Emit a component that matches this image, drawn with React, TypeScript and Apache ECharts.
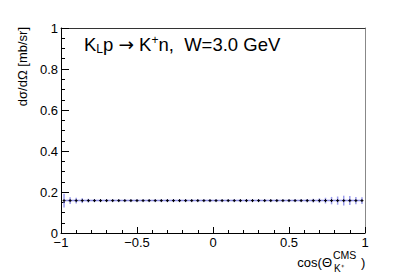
import React, { useEffect, useRef } from "react";
import * as echarts from "echarts";

const xCenters: number[] = [
  -0.98, -0.94, -0.9, -0.86, -0.82, -0.78, -0.74, -0.7, -0.66, -0.62,
  -0.58, -0.54, -0.5, -0.46, -0.42, -0.38, -0.34, -0.3, -0.26, -0.22,
  -0.18, -0.14, -0.1, -0.06, -0.02, 0.02, 0.06, 0.1, 0.14, 0.18,
  0.22, 0.26, 0.3, 0.34, 0.38, 0.42, 0.46, 0.5, 0.54, 0.58,
  0.62, 0.66, 0.7, 0.74, 0.78, 0.82, 0.86, 0.9, 0.94, 0.98,
];
const yValues: number[] = [
  0.158, 0.158, 0.158, 0.158, 0.158, 0.158, 0.158, 0.158, 0.158, 0.158,
  0.158, 0.158, 0.158, 0.158, 0.158, 0.158, 0.158, 0.158, 0.158, 0.158,
  0.158, 0.158, 0.158, 0.158, 0.158, 0.158, 0.158, 0.158, 0.158, 0.158,
  0.158, 0.158, 0.158, 0.158, 0.158, 0.158, 0.158, 0.158, 0.158, 0.158,
  0.158, 0.158, 0.158, 0.158, 0.158, 0.158, 0.158, 0.158, 0.158, 0.158,
];
const yErrors: number[] = [
  0.033, 0.016, 0.014, 0.012, 0.009, 0.007, 0.006, 0.006, 0.006, 0.006,
  0.006, 0.006, 0.006, 0.006, 0.006, 0.006, 0.006, 0.006, 0.006, 0.006,
  0.006, 0.006, 0.006, 0.006, 0.006, 0.006, 0.006, 0.006, 0.006, 0.006,
  0.006, 0.006, 0.006, 0.006, 0.006, 0.006, 0.006, 0.006, 0.007, 0.007,
  0.008, 0.009, 0.011, 0.014, 0.018, 0.02, 0.024, 0.022, 0.018, 0.016,
];
const xTicks: number[] = [-1, -0.5, 0, 0.5, 1];
const yTicks: number[] = [0, 0.2, 0.4, 0.6, 0.8, 1];

const FONT = "Liberation Sans, Arial, Helvetica, sans-serif";

function fmt(v: number): string {
  const s = String(v);
  return s.replace("-", "\u2212");
}

export default function App() {
  const ref = useRef<HTMLDivElement>(null);
  useEffect(() => {
    document.body.style.margin = "0";
    if (!ref.current) return;
    const chart = echarts.init(ref.current, undefined, { renderer: "svg" });
    const pts = xCenters.map((x, i) => [x, yValues[i], yErrors[i]]);
    chart.setOption({
      animation: false,
      backgroundColor: "#ffffff",
      grid: { left: 61, right: 40, top: 28, bottom: 42 },
      xAxis: [
        {
          type: "value",
          min: -1,
          max: 1,
          interval: 0.5,
          position: "bottom",
          axisLine: { show: true, onZero: false, lineStyle: { color: "#000", width: 1 } },
          axisTick: { show: true, inside: true, length: 6, lineStyle: { color: "#000" } },
          minorTick: { show: true, splitNumber: 5, length: 3, lineStyle: { color: "#000" } },
          splitLine: { show: false },
          axisLabel: {
            show: true,
            margin: 3,
            fontSize: 13,
            color: "#000",
            fontFamily: FONT,
            formatter: (v: number) => (xTicks.indexOf(v) >= 0 ? fmt(v) : ""),
          },
        },
        {
          type: "value",
          min: -1,
          max: 1,
          position: "top",
          axisLine: { show: true, onZero: false, lineStyle: { color: "#333", width: 1 } },
          axisTick: { show: false },
          axisLabel: { show: false },
          splitLine: { show: false },
        },
      ],
      yAxis: [
        {
          type: "value",
          min: 0,
          max: 1,
          interval: 0.2,
          position: "left",
          axisLine: { show: true, onZero: false, lineStyle: { color: "#000", width: 1 } },
          axisTick: { show: true, inside: true, length: 8, lineStyle: { color: "#000" } },
          minorTick: { show: true, splitNumber: 4, length: 4, lineStyle: { color: "#000" } },
          splitLine: { show: false },
          axisLabel: {
            show: true,
            margin: 3,
            fontSize: 13,
            color: "#000",
            fontFamily: FONT,
            formatter: (v: number) => (yTicks.some((t) => Math.abs(t - v) < 1e-9) ? String(Math.round(v * 10) / 10) : ""),
          },
        },
        {
          type: "value",
          min: 0,
          max: 1,
          position: "right",
          axisLine: { show: true, onZero: false, lineStyle: { color: "#888", width: 1 } },
          axisTick: { show: false },
          axisLabel: { show: false },
          splitLine: { show: false },
        },
      ],
      series: [
        {
          type: "line",
          data: pts.map((p) => [p[0], p[1]]),
          showSymbol: false,
          lineStyle: { color: "#5a5ad8", width: 1.5, opacity: 0.7 },
          z: 1,
        },
        {
          type: "custom",
          data: pts,
          z: 2,
          renderItem: (params: any, api: any) => {
            const x = api.value(0);
            const y = api.value(1);
            const e = api.value(2);
            const c = api.coord([x, y]);
            const top = api.coord([x, y + e]);
            const bot = api.coord([x, y - e]);
            return {
              type: "group",
              children: [
                {
                  type: "line",
                  shape: { x1: c[0], y1: top[1], x2: c[0], y2: bot[1] },
                  style: { stroke: "#7a7ae6", lineWidth: 1.5, opacity: 0.75 },
                },
                {
                  type: "line",
                  shape: { x1: c[0] - 1.5, y1: c[1], x2: c[0] + 1.5, y2: c[1] },
                  style: { stroke: "#000", lineWidth: 1 },
                },
                {
                  type: "line",
                  shape: { x1: c[0], y1: c[1] - 1.5, x2: c[0], y2: c[1] + 1.5 },
                  style: { stroke: "#000", lineWidth: 1 },
                },
              ],
            };
          },
        },
      ],
      graphic: [
        {
          type: "text",
          left: 84,
          top: 34,
          style: {
            text: "K{sub|L}p {arr|\u2192} K{sup|+}n,  W=3.0 GeV",
            fontSize: 18.5,
            fontFamily: FONT,
            fill: "#000",
            rich: {
              sub: { fontSize: 12, fontFamily: FONT, fill: "#000", verticalAlign: "bottom", padding: [9, 0, 0, 0] },
              sup: { fontSize: 12, fontFamily: FONT, fill: "#000", verticalAlign: "top", padding: [0, 0, 8, 0] },
              arr: { fontSize: 18.5, fontFamily: "DejaVu Sans", fill: "#000" },
            },
          },
        },
        {
          type: "text",
          x: 22,
          y: 27,
          rotation: Math.PI / 2,
          style: {
            text: "d\u03c3/d\u03a9 [mb/sr]",
            fontSize: 13,
            fontFamily: FONT,
            fill: "#000",
            align: "right",
            verticalAlign: "middle",
          },
        },
        {
          type: "text",
          x: 332,
          y: 262,
          style: {
            text: "cos(\u0398",
            fontSize: 13,
            fontFamily: FONT,
            fill: "#000",
            align: "right",
            verticalAlign: "middle",
          },
        },
        {
          type: "text",
          x: 333,
          y: 255,
          style: {
            text: "CMS",
            fontSize: 10.5,
            fontFamily: FONT,
            fill: "#000",
            align: "left",
            verticalAlign: "middle",
          },
        },
        {
          type: "text",
          x: 334,
          y: 268,
          style: {
            text: "K\u207a",
            fontSize: 10,
            fontFamily: FONT,
            fill: "#000",
            align: "left",
            verticalAlign: "middle",
          },
        },
        {
          type: "text",
          x: 361,
          y: 262,
          style: {
            text: ")",
            fontSize: 13,
            fontFamily: FONT,
            fill: "#000",
            align: "left",
            verticalAlign: "middle",
          },
        },
      ],
    });
    return () => chart.dispose();
  }, []);
  return <div ref={ref} style={{ width: 405, height: 275 }} />;
}
